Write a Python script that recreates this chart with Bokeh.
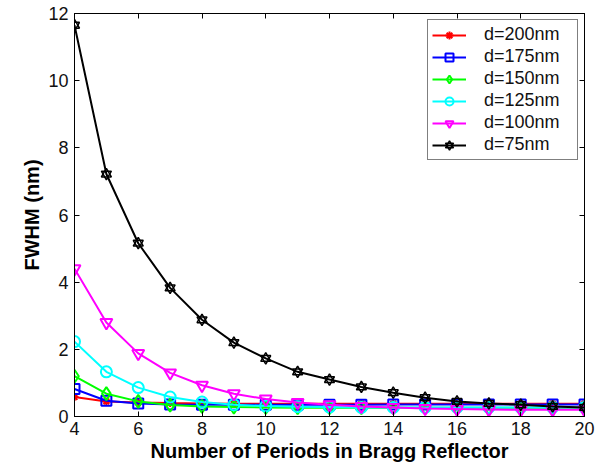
from bokeh.plotting import figure
from bokeh.models import LinearAxis, FixedTicker, Range1d, Legend, LegendItem
from bokeh.embed import file_html
from bokeh.resources import INLINE

periods = list(range(4, 21))
d200 = [0.58, 0.45, 0.42, 0.40, 0.39, 0.38, 0.38, 0.38, 0.38, 0.38, 0.38, 0.38, 0.38, 0.38, 0.38, 0.38, 0.38]
d175 = [0.82, 0.47, 0.39, 0.36, 0.35, 0.35, 0.35, 0.35, 0.35, 0.35, 0.36, 0.36, 0.36, 0.36, 0.36, 0.36, 0.36]
d150 = [1.20, 0.68, 0.45, 0.34, 0.30, 0.28, 0.27, 0.26, 0.26, 0.26, 0.26, 0.26, 0.26, 0.26, 0.26, 0.26, 0.26]
d125 = [2.23, 1.33, 0.86, 0.58, 0.43, 0.35, 0.31, 0.29, 0.28, 0.27, 0.27, 0.27, 0.27, 0.27, 0.27, 0.27, 0.27]
d100 = [4.40, 2.80, 1.88, 1.30, 0.93, 0.68, 0.52, 0.42, 0.35, 0.30, 0.27, 0.24, 0.22, 0.21, 0.20, 0.20, 0.20]
d75 = [11.65, 7.22, 5.16, 3.83, 2.88, 2.20, 1.73, 1.33, 1.10, 0.88, 0.71, 0.56, 0.45, 0.39, 0.35, 0.30, 0.27]
labels = ["d=200nm", "d=175nm", "d=150nm", "d=125nm", "d=100nm", "d=75nm"]
colors = ["#ff0000", "#0000ff", "#00ff00", "#00ffff", "#ff00ff", "#000000"]
x_ticks = [4, 6, 8, 10, 12, 14, 16, 18, 20]
y_ticks = [0, 2, 4, 6, 8, 10, 12]

FONT = "Liberation Sans"

p = figure(width=607, height=470, output_backend="svg", toolbar_location=None,
           x_range=Range1d(4, 20), y_range=Range1d(0, 12),
           min_border_left=74, min_border_right=23, min_border_top=13, min_border_bottom=54)
p.xgrid.visible = False
p.ygrid.visible = False
p.outline_line_color = "black"
p.outline_line_width = 1
p.background_fill_color = "white"
p.border_fill_color = "white"

def style_axis(ax, ticks, show_labels=True):
    ax.ticker = FixedTicker(ticks=ticks)
    ax.major_tick_in = 5
    ax.major_tick_out = 0
    ax.minor_tick_line_color = None
    ax.axis_line_color = "black"
    ax.major_tick_line_color = "black"
    ax.major_label_text_font = FONT
    ax.major_label_text_font_size = "18px"
    ax.major_label_text_color = "#111111"
    if not show_labels:
        ax.major_label_text_font_size = "0px"
        ax.major_label_text_alpha = 0

style_axis(p.xaxis[0], x_ticks)
style_axis(p.yaxis[0], y_ticks)
p.xaxis[0].axis_label = "Number of Periods in Bragg Reflector"
p.yaxis[0].axis_label = "FWHM (nm)"
for ax in (p.xaxis[0], p.yaxis[0]):
    ax.axis_label_text_font = FONT
    ax.axis_label_text_font_style = "bold"
    ax.axis_label_text_font_size = "20px"
    ax.axis_label_text_color = "black"
p.xaxis[0].major_label_standoff = 5
p.xaxis[0].axis_label_standoff = 2
p.yaxis[0].major_label_standoff = 6
p.yaxis[0].axis_label_standoff = 2

top_ax = LinearAxis()
style_axis(top_ax, x_ticks, show_labels=False)
p.add_layout(top_ax, "above")
right_ax = LinearAxis()
style_axis(right_ax, y_ticks, show_labels=False)
p.add_layout(right_ax, "right")

series = [d200, d175, d150, d125, d100, d75]
items = []
for i, (vals, lab, col) in enumerate(zip(series, labels, colors)):
    ln = p.line(periods, vals, line_color=col, line_width=2)
    rs = [ln]
    if i == 0:
        rs.append(p.scatter(periods, vals, marker="asterisk", size=8, line_color=col, line_width=2))
    elif i == 1:
        rs.append(p.scatter(periods, vals, marker="square", size=10, line_color=col, fill_color=None, line_width=2))
    elif i == 2:
        rs.append(p.scatter(periods, vals, marker="diamond", size=13, line_color=col, fill_color=None, line_width=2))
    elif i == 3:
        rs.append(p.scatter(periods, vals, marker="circle", size=11, line_color=col, fill_color=None, line_width=2))
    elif i == 4:
        rs.append(p.scatter(periods, vals, marker="inverted_triangle", size=12, line_color=col, fill_color=None, line_width=2))
    else:
        rs.append(p.scatter(periods, vals, marker="triangle", size=10, line_color=col, fill_color=None, line_width=1.5))
        rs.append(p.scatter(periods, vals, marker="inverted_triangle", size=10, line_color=col, fill_color=None, line_width=1.5))
    items.append(LegendItem(label=lab, renderers=rs))

legend = Legend(items=items, location="top_right")
legend.label_text_font = FONT
legend.label_text_font_size = "18px"
legend.label_text_color = "#111111"
legend.border_line_color = "black"
legend.border_line_width = 1
legend.background_fill_alpha = 1
legend.glyph_width = 34
legend.glyph_height = 20
legend.label_height = 20
legend.label_width = 89
legend.spacing = 1
legend.padding = 4
legend.margin = 6
legend.label_standoff = 18
p.add_layout(legend, "center")

open("out.html", "w").write(file_html(p, INLINE))
